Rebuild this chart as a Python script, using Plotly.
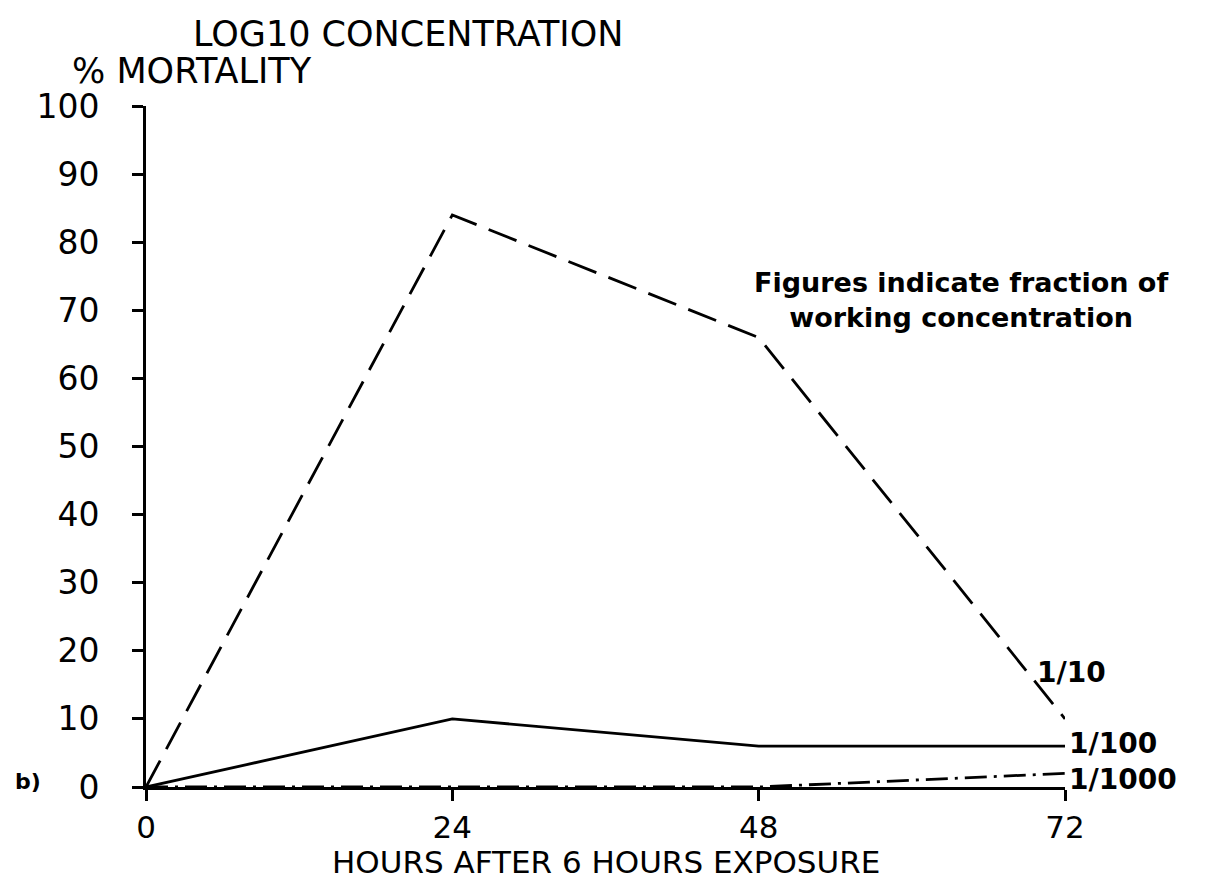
import plotly.graph_objects as go

# ---- data ----
hours = [0, 24, 48, 72]
series_names = ["1/10", "1/100", "1/1000"]
mort_1_10 = [0, 84, 66, 10]
mort_1_100 = [0, 10, 6, 6]
mort_1_1000 = [0, 0, 0, 2]
x_ticks = [0, 24, 48, 72]
y_ticks = [0, 10, 20, 30, 40, 50, 60, 70, 80, 90, 100]

# ---- layout geometry (pixels) ----
W, H = 1212, 880
L, R, T, B = 138, 1057, 98, 779   # plot area edges


def px(xp):
    return (xp - L) / (R - L)


def py(yp):
    return (B - yp) / (B - T)


PLOT_FONT = "DejaVu Sans"
BOLD_FONT = "DejaVu Sans"

fig = go.Figure()
styles = [
    dict(dash="30px,13px", width=2.8),
    dict(dash="solid", width=2.8),
    dict(dash="22px,7px,3px,7px", width=2.8),
]
all_series = [mort_1_10, mort_1_100, mort_1_1000]
for name, vals, st in zip(series_names, all_series, styles):
    fig.add_trace(go.Scatter(
        x=hours, y=vals, mode="lines", name=name,
        line=dict(color="black", width=st["width"], dash=st["dash"]),
        cliponaxis=False, showlegend=False, hoverinfo="skip",
    ))

# series end labels: (xshift, yshift) in px relative to last point
label_offsets = [(-30, 46), (2, 3), (2, -6)]
annotations = []
for name, vals, (dx, dy) in zip(series_names, all_series, label_offsets):
    annotations.append(dict(
        x=hours[-1], y=vals[-1], xref="x", yref="y", text=name,
        showarrow=False, xanchor="left", yanchor="middle",
        xshift=dx, yshift=dy,
        font=dict(family=BOLD_FONT, size=28, color="black", weight="bold"),
    ))

annotations += [
    dict(x=px(183), y=py(26), xref="paper", yref="paper", text="LOG10 CONCENTRATION",
         showarrow=False, xanchor="left", yanchor="middle",
         font=dict(family=PLOT_FONT, size=35, color="black")),
    dict(x=px(62), y=py(63), xref="paper", yref="paper", text="% MORTALITY",
         showarrow=False, xanchor="left", yanchor="middle",
         font=dict(family=PLOT_FONT, size=35, color="black")),
    dict(x=px(5), y=py(773), xref="paper", yref="paper", text="b)",
         showarrow=False, xanchor="left", yanchor="middle",
         font=dict(family=BOLD_FONT, size=22, color="black", weight="bold")),
    dict(x=px(953), y=py(292), xref="paper", yref="paper",
         text="Figures indicate fraction of<br>working concentration",
         showarrow=False, xanchor="center", yanchor="middle", align="center",
         font=dict(family=BOLD_FONT, size=27, color="black", weight="bold")),
    dict(x=0.5, y=py(873), xref="paper", yref="paper",
         text="HOURS AFTER 6 HOURS EXPOSURE",
         showarrow=False, xanchor="center", yanchor="bottom", borderpad=0,
         font=dict(family=PLOT_FONT, size=31, color="black")),
]

shapes = [
    dict(type="line", xref="paper", yref="paper",
         x0=px(1207), x1=px(1207), y0=py(H + 5), y1=py(-5),
         line=dict(color="black", width=3)),
]

fig.update_layout(
    width=W, height=H,
    margin=dict(l=L, r=W - R, t=T, b=H - B, pad=0),
    paper_bgcolor="white", plot_bgcolor="white",
    annotations=annotations, shapes=shapes,
    xaxis=dict(
        range=[0, 72], tickvals=x_ticks, ticktext=[str(v) for v in x_ticks],
        showline=True, linecolor="black", linewidth=3, mirror=False,
        ticks="outside", ticklen=11, tickwidth=3, tickcolor="black",
        showgrid=False, zeroline=False,
        tickfont=dict(family=PLOT_FONT, size=31, color="black"),
        ticklabelstandoff=0,
    ),
    yaxis=dict(
        range=[0, 100], tickvals=y_ticks, ticktext=[str(v) for v in y_ticks],
        showline=True, linecolor="black", linewidth=3,
        ticks="outside", ticklen=11, tickwidth=3, tickcolor="black",
        showgrid=False, zeroline=False,
        tickfont=dict(family=PLOT_FONT, size=33, color="black"),
        ticklabelstandoff=26,
    ),
)

fig.write_html("out.html")
